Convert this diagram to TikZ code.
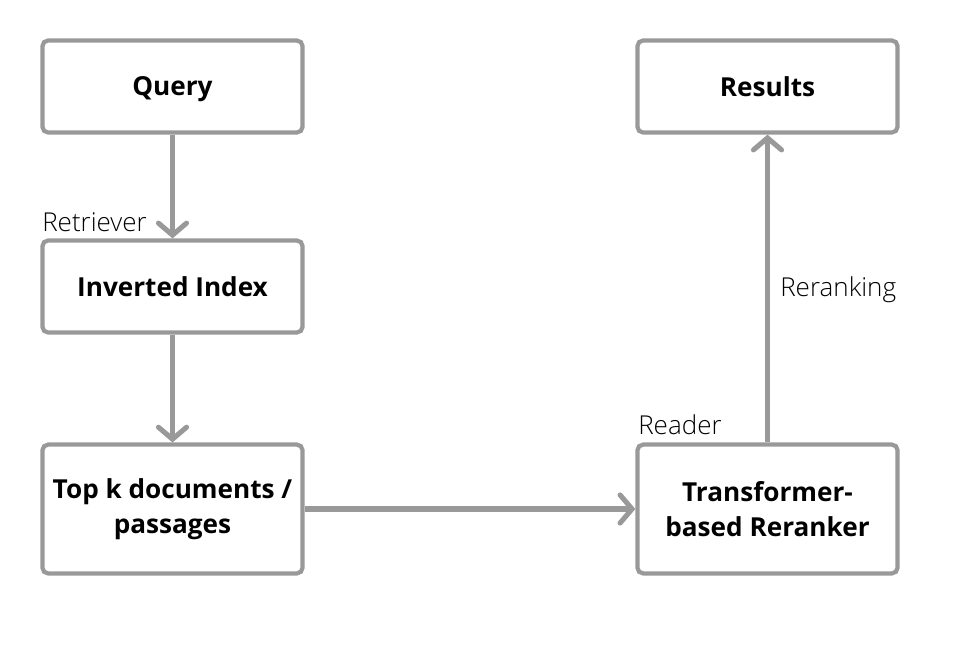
\documentclass[tikz,border=0pt]{standalone}
\usepackage{fontspec}
\setmainfont{Open Sans}
\newfontfamily\lightfont{Open Sans Light}
\usepackage{xcolor}
\definecolor{boxgray}{HTML}{999999}
\usetikzlibrary{arrows.meta}

\begin{document}
\begin{tikzpicture}[x=0.025cm, y=-0.025cm,
  box/.style={draw=boxgray, line width=3pt, rounded corners=4pt, minimum width=6.5cm, minimum height=2.3cm, align=center, font=\bfseries\fontsize{18.6}{24.9}\selectfont},
  tallbox/.style={box, minimum height=3.22cm},
  lbl/.style={anchor=west, inner sep=0pt, font=\lightfont\fontsize{18.5}{22}\selectfont},
  flow/.style={draw=boxgray, line width=3.6pt, -{Straight Barb[length=8.5pt, width=20pt, line cap=round]}}]
  \useasboundingbox (0,0) rectangle (966,664);
  % boxes
  \node[box, text height=13pt, text depth=0pt] (query) at (172.5,86.5) {Query};
  \node[box] (index) at (172.5,286.5) {Inverted Index};
  \node[tallbox] (topk) at (172.5,509) {Top k documents /\\passages};
  \node[box] (results) at (767.5,86.5) {Results};
  \node[tallbox] (reranker) at (767.5,509) {Transformer-\\based Reranker};
  % labels
  \node[lbl] (retriever) at (42,222) {Retriever};
  \node[lbl] (reranking) at (780,290) {Reranking};
  \node[lbl] (reader) at (638,425) {Reader};
  % arrows
  \draw[flow] (query) -- (index);
  \draw[flow] (index) -- (topk);
  \draw[flow] (topk) -- (reranker);
  \draw[flow] (reranker) -- (results);
\end{tikzpicture}
\end{document}
